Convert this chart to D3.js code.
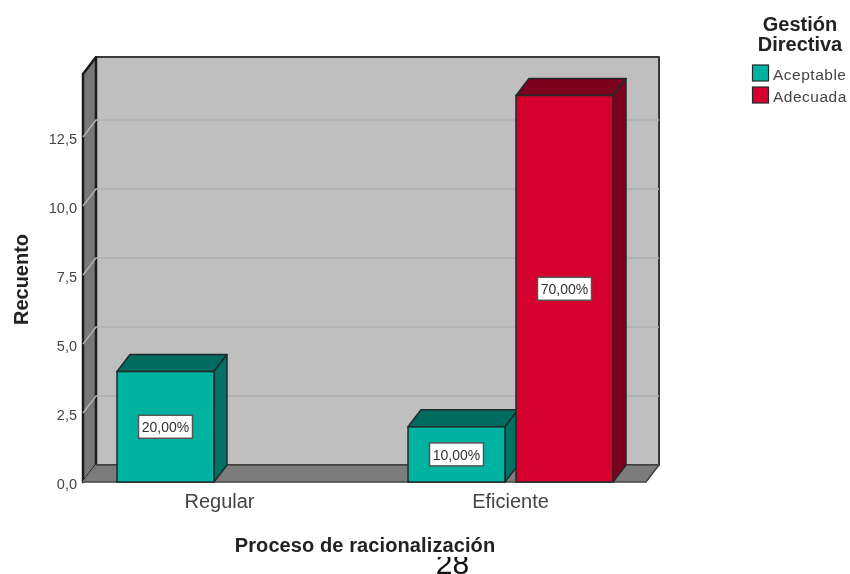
<!DOCTYPE html>
<html>
<head>
<meta charset="utf-8">
<script src="https://cdn.jsdelivr.net/npm/d3@7"></script>
<style>
  html, body { margin: 0; padding: 0; background: #fff; overflow: hidden; }
  /* the source is a slightly soft screenshot */
  svg { display: block; filter: blur(0.45px); }
  text { font-family: "Liberation Sans", Arial, sans-serif; }
</style>
</head>
<body>
<svg id="chart" width="850" height="574"></svg>
<script>
const categories = ["Regular", "Eficiente"];
const seriesNames = ["Aceptable", "Adecuada"];
const aceptableValues = [4, 2];
const adecuadaValues = [null, 14];
const aceptablePercent = ["20,00%", "10,00%"];
const adecuadaPercent = [null, "70,00%"];
const yTicks = [0, 2.5, 5, 7.5, 10, 12.5];

const colors = {
    Aceptable: { front: "#00B3A0", top: "#006B60", side: "#007165" },
    Adecuada: { front: "#D6002F", top: "#7D001C", side: "#7D001C" }
};
const edge = "#1f2a2a";

// depth of the 3d box, back wall sits up and to the right of the front plane
const depthX = 13;
const depthY = 17;
const plotLeft = 83, plotRight = 646, plotBottom = 482, plotTop = 74;

const svg = d3.select("#chart");

const x0 = d3.scaleBand().domain(categories).range([74, 656]);
const x1 = d3.scaleBand().domain(seriesNames).range([43, 248]).paddingInner(0.102);
const y = d3.scaleLinear().domain([0, 14.78]).range([plotBottom, plotTop]);

const poly = (pts, fill, stroke = edge, width = 1.5) => svg.append("polygon")
    .attr("points", pts.map(p => p.join(",")).join(" "))
    .attr("fill", fill)
    .attr("stroke", stroke)
    .attr("stroke-width", width)
    .attr("stroke-linejoin", "round");

// back wall, left wall and floor
poly([[plotLeft + depthX, plotTop - depthY], [plotRight + depthX, plotTop - depthY], [plotRight + depthX, plotBottom - depthY], [plotLeft + depthX, plotBottom - depthY]], "#BFBFBF", "#3a3a3a", 2);
poly([[plotLeft, plotTop], [plotLeft + depthX, plotTop - depthY], [plotLeft + depthX, plotBottom - depthY], [plotLeft, plotBottom]], "#777777", "#1c1c1c", 2.5);
poly([[plotLeft, plotBottom], [plotLeft + depthX, plotBottom - depthY], [plotRight + depthX, plotBottom - depthY], [plotRight, plotBottom]], "#7C7C7C", "#444", 1.5);

// gridlines on the wall
yTicks.filter(d => d > 0).forEach(d => {
    svg.append("path")
        .attr("d", `M${plotLeft},${y(d)}L${plotLeft + depthX},${y(d) - depthY}L${plotRight + depthX},${y(d) - depthY}`)
        .attr("fill", "none")
        .attr("stroke", "#B0B0B0")
        .attr("stroke-width", 1.5);
});
svg.append("path")
    .attr("d", `M${plotLeft},${plotBottom}L${plotLeft + depthX},${plotBottom - depthY}`)
    .attr("fill", "none")
    .attr("stroke", "#9a9a9a");

// y axis
const yAxis = svg.append("g")
    .attr("transform", `translate(${plotLeft},0)`)
    .call(d3.axisLeft(y).tickValues(yTicks).tickSize(0).tickPadding(6)
        .tickFormat(d => d3.format(".1f")(d).replace(".", ",")));
yAxis.select(".domain").remove();
yAxis.selectAll("text").attr("font-size", 14.5).attr("fill", "#444").attr("dy", "0.47em");

// x axis
const xAxis = svg.append("g")
    .attr("transform", `translate(0,${plotBottom})`)
    .call(d3.axisBottom(x0).tickSize(0).tickPadding(12));
xAxis.select(".domain").remove();
xAxis.selectAll("text").attr("font-size", 20).attr("fill", "#444");

// bars, right series drawn last so it overlaps the neighbour's side face
const seriesValues = { Aceptable: aceptableValues, Adecuada: adecuadaValues };
const seriesPercent = { Aceptable: aceptablePercent, Adecuada: adecuadaPercent };

const labels = [];
seriesNames.forEach(name => {
    categories.forEach((cat, i) => {
        const v = seriesValues[name][i];
        if (v === null) return;
        const xa = x0(cat) + x1(name);
        const xb = xa + x1.bandwidth();
        const yt = y(v);
        const c = colors[name];
        poly([[xa, yt], [xa + depthX, yt - depthY], [xb + depthX, yt - depthY], [xb, yt]], c.top);
        poly([[xb, yt], [xb + depthX, yt - depthY], [xb + depthX, plotBottom - depthY], [xb, plotBottom]], c.side);
        svg.append("rect")
            .attr("x", xa).attr("y", yt)
            .attr("width", x1.bandwidth()).attr("height", plotBottom - yt)
            .attr("fill", c.front).attr("stroke", edge).attr("stroke-width", 1.5);
        labels.push({ text: seriesPercent[name][i], cx: (xa + xb) / 2, cy: y(v / 2) });
    });
});

// percent boxes go on top of everything
labels.forEach(l => {
    svg.append("rect")
        .attr("x", l.cx - 27).attr("y", l.cy - 11.5)
        .attr("width", 54).attr("height", 23)
        .attr("fill", "#fff").attr("stroke", "#555").attr("stroke-width", 1.5);
    svg.append("text")
        .attr("x", l.cx).attr("y", l.cy + 5.5)
        .attr("text-anchor", "middle")
        .attr("font-size", 14).attr("fill", "#333")
        .text(l.text);
});

// axis titles
svg.append("text")
    .attr("transform", "translate(28,279.5) rotate(-90)")
    .attr("text-anchor", "middle")
    .attr("font-size", 20).attr("font-weight", "bold").attr("fill", "#222")
    .text("Recuento");
svg.append("text")
    .attr("x", 365).attr("y", 551.5)
    .attr("text-anchor", "middle")
    .attr("font-size", 20).attr("letter-spacing", 0.1).attr("font-weight", "bold").attr("fill", "#222")
    .text("Proceso de racionalización");

// page number, cut off at the top in the source
svg.append("clipPath").attr("id", "pageClip")
    .append("rect").attr("x", 420).attr("y", 557).attr("width", 70).attr("height", 17);
svg.append("text")
    .attr("x", 452.5).attr("y", 574)
    .attr("text-anchor", "middle")
    .attr("clip-path", "url(#pageClip)")
    .attr("font-size", 30).attr("fill", "#111")
    .text("28");

// legend
const legendTitle = ["Gestión", "Directiva"];
legendTitle.forEach((t, i) => {
    svg.append("text")
        .attr("x", 800).attr("y", 31 + i * 20)
        .attr("text-anchor", "middle")
        .attr("font-size", 20).attr("font-weight", "bold").attr("fill", "#222")
        .text(t);
});
const legendY = d3.scalePoint().domain(seriesNames).range([73, 95]);
seriesNames.forEach(name => {
    svg.append("rect")
        .attr("x", 752.5).attr("y", legendY(name) - 8)
        .attr("width", 16).attr("height", 16)
        .attr("fill", colors[name].front).attr("stroke", edge).attr("stroke-width", 1.2);
    svg.append("text")
        .attr("x", 773).attr("y", legendY(name) + 7)
        .attr("font-size", 15.5).attr("letter-spacing", 0.5).attr("fill", "#444")
        .text(name);
});
</script>
</body>
</html>
